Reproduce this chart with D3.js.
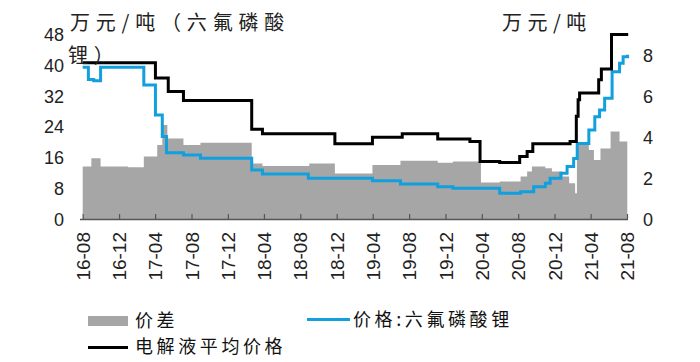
<!DOCTYPE html>
<html><head><meta charset="utf-8">
<script src="https://cdn.jsdelivr.net/npm/d3@7"></script>
<style>body{margin:0;background:#fff}svg{display:block}</style>
</head><body><svg id="c" width="700" height="362"></svg>
<script>
// ---- data ----
const xTickLabels = ["16-08","16-12","17-04","17-08","17-12","18-04","18-08","18-12","19-04","19-08","19-12","20-04","20-08","20-12","21-04","21-08"];
const leftTicks = [0,8,16,24,32,40,48];
const rightTicks = [0,2,4,6,8];

const electrolyteDates = ["2016-08-01","2017-04-02","2017-05-15","2017-07-05","2018-02-19","2018-03-27","2018-11-25","2019-03-31","2019-07-09","2019-11-05","2020-02-21","2020-03-26","2020-05-31","2020-08-06","2020-08-31","2020-09-19","2021-01-22","2021-02-12","2021-02-18","2021-02-23","2021-04-28","2021-05-07","2021-06-10","2021-08-05"];
const electrolytePrices = [7.6,6.86,6.2,5.77,4.37,4.15,3.66,3.98,4.15,3.89,3.77,2.8,2.75,3.04,3.28,3.66,3.77,5.0,5.8,6.13,6.78,7.3,8.98,8.98];

const lipf6Dates = ["2016-08-01","2016-08-20","2016-09-07","2016-09-30","2017-02-22","2017-04-02","2017-04-25","2017-05-09","2017-07-05","2017-08-31","2018-02-19","2018-03-27","2018-08-28","2019-03-31","2019-07-03","2019-11-05","2019-12-26","2020-05-31","2020-08-09","2020-09-22","2020-10-31","2020-11-16","2020-12-22","2021-01-12","2021-02-03","2021-02-15","2021-03-26","2021-04-15","2021-05-01","2021-05-18","2021-06-12","2021-07-07","2021-07-19","2021-08-03"];
const lipf6Prices = [39.4,36.2,35.9,39.4,34.8,27,21.4,17.2,16.6,15.75,12.7,11.7,10.55,9.95,9.1,8.4,7.96,6.66,7.1,8.4,9.26,10.55,11.85,13.6,15.7,19.6,23.1,26.5,28.3,31.3,38.2,40.4,42.1,42.6];

const spreadDates = ["2016-08-01","2016-08-30","2016-09-30","2016-12-31","2017-02-22","2017-04-08","2017-04-25","2017-05-12","2017-07-05","2017-08-31","2018-02-19","2018-03-27","2018-08-31","2018-11-25","2019-03-31","2019-07-03","2019-11-05","2019-12-26","2020-03-29","2020-05-31","2020-08-09","2020-08-31","2020-09-16","2020-10-31","2020-11-22","2020-12-28","2021-01-19","2021-02-08","2021-02-14","2021-03-26","2021-04-12","2021-05-04","2021-06-07","2021-07-07","2021-08-02"];
const spreadValues = [13.6,15.75,13.6,13.4,16.2,19.2,24.4,20.9,19.2,19.8,14.4,13.75,14.4,11.8,14.0,15.1,14.6,14.9,9.5,9.7,11.0,12.3,13.6,13.2,12.3,11.0,9.3,6.7,19.6,17.9,15.3,18.3,22.7,20.1,20.1];

const labels = {leftUnit1:"万元/吨（六氟磷酸", leftUnit2:"锂）", rightUnit:"万元/吨", spread:"价差", lipf6:"价格:六氟磷酸锂", electrolyte:"电解液平均价格"};

// ---- drawing ----
const svg = d3.select("#c");
const parse = d3.timeParse("%Y-%m-%d");
const tickDates = xTickLabels.map(s => new Date(2000 + +s.slice(0,2), +s.slice(3) - 1, 1));
const x = d3.scaleTime().domain([tickDates[0], tickDates[tickDates.length-1]]).range([82.7, 627]);
const yL = d3.scaleLinear().domain([0,48]).range([219,34]);
const yR = d3.scaleLinear().domain([0,9]).range([219,34]);

const cjk = "'Noto Sans CJK SC','Noto Sans',sans-serif";
const num = "'Liberation Sans',Arial,sans-serif";

const spread = spreadDates.map((d,i)=>({d:parse(d), v:spreadValues[i]}));
const lipf6 = lipf6Dates.map((d,i)=>({d:parse(d), v:lipf6Prices[i]}));
const elec = electrolyteDates.map((d,i)=>({d:parse(d), v:electrolytePrices[i]}));

svg.append("path").datum(spread)
  .attr("fill","#a6a6a6")
  .attr("d", d3.area().curve(d3.curveStepAfter).x(p=>x(p.d)).y0(yL(0)).y1(p=>yL(p.v)));

svg.append("path").datum(lipf6)
  .attr("fill","none").attr("stroke","#129fde").attr("stroke-width",3)
  .attr("d", d3.line().curve(d3.curveStepAfter).x(p=>x(p.d)).y(p=>yL(p.v)));

svg.append("path").datum(elec)
  .attr("fill","none").attr("stroke","#000").attr("stroke-width",3)
  .attr("d", d3.line().curve(d3.curveStepAfter).x(p=>x(p.d)).y(p=>yR(p.v)));

// x axis
const xAxis = d3.axisBottom(x).tickValues(tickDates).tickSizeInner(-5).tickSizeOuter(0).tickFormat((d,i)=>xTickLabels[i]);
const gx = svg.append("g").attr("transform","translate(0,219)").call(xAxis);
gx.select(".domain").attr("stroke","#555").attr("stroke-width",1.5).attr("d","M80,0.5H628");
gx.selectAll(".tick line").attr("stroke","#555").attr("stroke-width",1.2);
gx.selectAll(".tick text")
  .attr("font-family",num).attr("font-size",19).attr("fill","#222")
  .attr("transform","rotate(-90)").attr("text-anchor","end").attr("x",-13).attr("y",0).attr("dy","0.35em");

// left axis
const gl = svg.append("g").attr("transform","translate(64,0)")
  .call(d3.axisLeft(yL).tickValues(leftTicks).tickSize(0).tickPadding(0));
gl.select(".domain").remove();
gl.selectAll(".tick text").attr("font-family",num).attr("font-size",18).attr("fill","#222").attr("dy","0.36em");

// right axis
const gr = svg.append("g").attr("transform","translate(643,0)")
  .call(d3.axisRight(yR).tickValues(rightTicks).tickSize(0).tickPadding(0));
gr.select(".domain").remove();
gr.selectAll(".tick text").attr("font-family",num).attr("font-size",18).attr("fill","#222").attr("dy","0.36em");

// unit titles
const t = (txt,xx,yy,ls)=>svg.append("text").text(txt).attr("x",xx).attr("y",yy)
  .attr("font-family",cjk).attr("font-size",20).attr("letter-spacing",ls).attr("fill","#222");
t(labels.leftUnit1,70,30,5.8);
t(labels.leftUnit2,68,63,5.8);
t(labels.rightUnit,502,30,5.5);

// legend
const lg = svg.append("g");
lg.append("rect").attr("x",88).attr("y",316).attr("width",40).attr("height",10).attr("fill","#a6a6a6");
lg.append("line").attr("x1",307).attr("x2",350).attr("y1",319.5).attr("y2",319.5).attr("stroke","#129fde").attr("stroke-width",3);
lg.append("line").attr("x1",88).attr("x2",128).attr("y1",347.5).attr("y2",347.5).attr("stroke","#000").attr("stroke-width",3);
const lt = (txt,xx,yy)=>lg.append("text").text(txt).attr("x",xx).attr("y",yy).attr("dy","0.35em")
  .attr("font-family",cjk).attr("font-size",18).attr("letter-spacing",3.6).attr("fill","#111");
lt(labels.spread,135,321);
lt(labels.lipf6,353,320);
lt(labels.electrolyte,135,347);
</script></body></html>
